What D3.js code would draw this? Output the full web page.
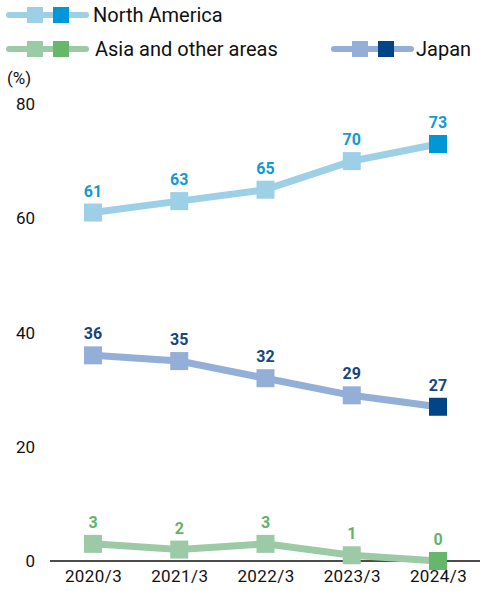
<!DOCTYPE html>
<html><head><meta charset="utf-8">
<script src="https://cdn.jsdelivr.net/npm/d3@7"></script>
<style>body{margin:0;background:#fff}svg{display:block}</style>
</head><body>
<script>
const categories = ["2020/3","2021/3","2022/3","2023/3","2024/3"];
const northAmerica = [61,63,65,70,73];
const japan = [36,35,32,29,27];
const asiaOther = [3,2,3,1,0];
const yTicks = [0,20,40,60,80];

const series = [
  {name:"North America", values:northAmerica, light:"#9dcfe6", dark:"#0097d9", text:"#1399d6"},
  {name:"Japan", values:japan, light:"#93afd7", dark:"#034486", text:"#16467f"},
  {name:"Asia and other areas", values:asiaOther, light:"#9dcaa6", dark:"#66b66b", text:"#63b36b"}
];

const W=485,H=591;
const svg=d3.select("body").append("svg").attr("width",W).attr("height",H);
const font="Roboto, 'DejaVu Sans', sans-serif";

const x=d3.scalePoint().domain(categories).range([93,438]);
const y=d3.scaleLinear().domain([0,80]).range([561,104]);

// y tick labels
svg.selectAll(".yt").data(yTicks).enter().append("text")
  .attr("x",35).attr("y",d=>y(d)).attr("dy","0.36em").attr("text-anchor","end")
  .attr("font-family",font).attr("font-size",17).attr("fill","#111").text(d=>d);
svg.append("text").attr("x",7).attr("y",84).attr("font-family",font).attr("font-size",17).attr("fill","#111").text("(%)");

// x axis
const xAxis=svg.append("g").attr("transform","translate(0,561)")
  .call(d3.axisBottom(x).tickSize(0).tickPadding(9));
xAxis.select(".domain").remove();
xAxis.append("line").attr("x1",50).attr("x2",480).attr("stroke","#111").attr("stroke-width",1.5);
xAxis.selectAll("text").attr("font-family",font).attr("font-size",17).attr("fill","#111").attr("letter-spacing","0.4px");

const line=d3.line().x((d,i)=>x(categories[i])).y(d=>y(d));
const ms=18;
series.forEach(s=>{
  const g=svg.append("g");
  g.append("path").datum(s.values).attr("d",line).attr("fill","none")
    .attr("stroke",s.light).attr("stroke-width",7);
  g.selectAll("rect").data(s.values).enter().append("rect")
    .attr("x",(d,i)=>x(categories[i])-ms/2).attr("y",d=>y(d)-ms/2)
    .attr("width",ms).attr("height",ms)
    .attr("fill",(d,i)=>i===s.values.length-1?s.dark:s.light);
  g.selectAll("text").data(s.values).enter().append("text")
    .attr("x",(d,i)=>x(categories[i])).attr("y",d=>y(d)-16)
    .attr("text-anchor","middle").attr("font-family",font).attr("font-weight","bold")
    .attr("font-size",16).attr("fill",s.text).text(d=>d);
});

// legend
function legend(s,x0,yy,tx){
  const g=svg.append("g");
  g.append("line").attr("x1",x0).attr("x2",x0+77).attr("y1",yy).attr("y2",yy)
    .attr("stroke",s.light).attr("stroke-width",6).attr("stroke-linecap","round");
  g.append("rect").attr("x",x0+18).attr("y",yy-8).attr("width",16).attr("height",16).attr("fill",s.light);
  g.append("rect").attr("x",x0+44).attr("y",yy-8).attr("width",16).attr("height",16).attr("fill",s.dark);
  g.append("text").attr("x",tx).attr("y",yy).attr("dy","0.36em").attr("font-family",font)
    .attr("font-size",20).attr("fill","#111").text(s.name);
}
legend(series[0],9,15,93);
legend(series[2],9,49,95);
legend(series[1],334,49,416);
</script>
</body></html>
